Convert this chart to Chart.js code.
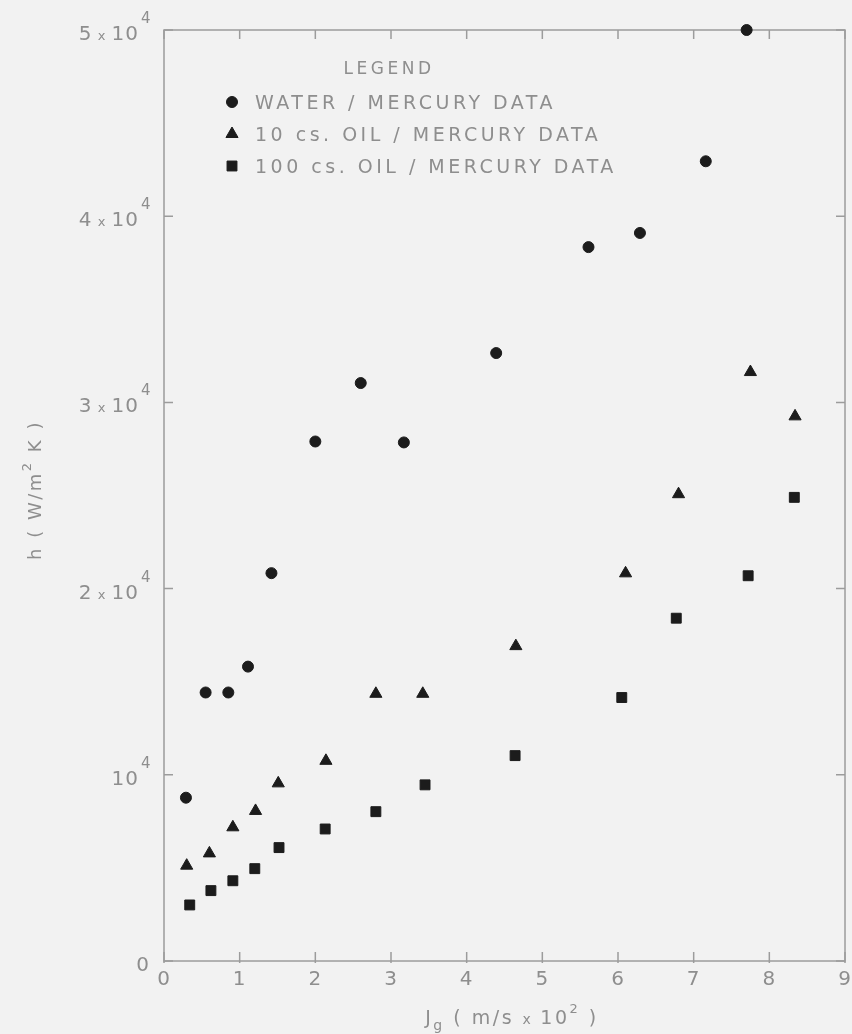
<!DOCTYPE html>
<html>
<head>
<meta charset="utf-8">
<script src="https://cdn.jsdelivr.net/npm/chart.js@4.4.1/dist/chart.umd.min.js"></script>
<style>
  html, body { margin: 0; padding: 0; background: #f2f2f2; }
  canvas { display: block; }
</style>
</head>
<body>
<canvas id="chart" width="852" height="1034"></canvas>
<script>
// Superficial gas velocity J_g (m/s x 10^2) and heat transfer coefficient h (W/m^2 K)
const jWater  = [0.29, 0.55, 0.85, 1.11, 1.42, 2.00, 2.60, 3.17, 4.39, 5.61, 6.29, 7.16, 7.70];
const hWater  = [8770, 14420, 14420, 15810, 20830, 27900, 31040, 27850, 32650, 38340, 39100, 42950, 50000];

const jOil10  = [0.30, 0.60, 0.91, 1.21, 1.51, 2.14, 2.80, 3.42, 4.65, 6.10, 6.80, 7.75, 8.34];
const hOil10  = [5120, 5780, 7180, 8060, 9540, 10750, 14350, 14350, 16910, 20820, 25070, 31630, 29250];

const jOil100 = [0.34, 0.62, 0.91, 1.20, 1.52, 2.13, 2.80, 3.45, 4.64, 6.05, 6.77, 7.72, 8.33];
const hOil100 = [3010, 3780, 4310, 4960, 6090, 7090, 8020, 9460, 11030, 14150, 18410, 20690, 24900];

const seriesNames = ['WATER / MERCURY DATA', '10 cs. OIL / MERCURY DATA', '100 cs. OIL / MERCURY DATA'];
const legendTitle = 'LEGEND';

// Axis ticks and their lettering
const jTicks = [0, 1, 2, 3, 4, 5, 6, 7, 8, 9];
const jTickText = ['0', '1', '2', '3', '4', '5', '6', '7', '8', '9'];
const hTicks = [0, 10000, 20000, 30000, 40000, 50000];
const hTickMantissa = ['0', '', '2', '3', '4', '5'];
const hTickExp = ['', '4', '4', '4', '4', '4'];

const FONT = '"DejaVu Sans", sans-serif';
const INK = '#8e8e8e';
const FRAME = '#9c9c9c';
const MARK = '#1c1c1c';

function toPoints(xs, ys) { return xs.map((x, i) => ({ x, y: ys[i] })); }

function fnt(size) { return size + 'px ' + FONT; }

function runWidth(ctx, parts) {
  let w = 0;
  for (const p of parts) { ctx.font = fnt(p.s); w += ctx.measureText(p.t).width; }
  return w;
}

// Draws a sequence of text pieces (with raised / lowered pieces) on one baseline
function drawRun(ctx, parts, x, baseline, align) {
  const w = runWidth(ctx, parts);
  let cx = align === 'right' ? x - w : align === 'center' ? x - w / 2 : x;
  for (const p of parts) {
    ctx.font = fnt(p.s);
    ctx.fillText(p.t, cx, baseline + (p.dy || 0));
    cx += ctx.measureText(p.t).width;
  }
}

const framePlugin = {
  id: 'frame',
  beforeDraw(chart) {
    const ctx = chart.ctx;
    ctx.save();
    ctx.fillStyle = '#f2f2f2';
    ctx.fillRect(0, 0, chart.width, chart.height);
    ctx.restore();
  },
  beforeDatasetsDraw(chart) {
    const { ctx, chartArea: a, scales: { x, y } } = chart;
    ctx.save();
    ctx.strokeStyle = FRAME;
    ctx.lineWidth = 1.5;
    ctx.strokeRect(a.left, a.top, a.right - a.left, a.bottom - a.top);
    const len = 9;
    ctx.beginPath();
    for (const v of jTicks) {
      const px = x.getPixelForValue(v);
      ctx.moveTo(px, a.bottom + 2); ctx.lineTo(px, a.bottom - len);
      ctx.moveTo(px, a.top); ctx.lineTo(px, a.top + len);
    }
    for (const v of hTicks) {
      const py = y.getPixelForValue(v);
      ctx.moveTo(a.left, py); ctx.lineTo(a.left + len, py);
      ctx.moveTo(a.right, py); ctx.lineTo(a.right - len, py);
    }
    ctx.stroke();
    ctx.restore();
  },
  afterDraw(chart) {
    const { ctx, scales: { x, y } } = chart;
    ctx.save();
    ctx.fillStyle = INK;
    ctx.textAlign = 'left';
    ctx.textBaseline = 'alphabetic';
    if ('letterSpacing' in ctx) ctx.letterSpacing = '1px';

    // h tick labels
    hTicks.forEach((v, i) => {
      const py = y.getPixelForValue(v);
      const base = py + 10;
      if (!hTickExp[i]) {
        drawRun(ctx, [{ t: hTickMantissa[i], s: 20 }], 150, base, 'right');
        return;
      }
      const parts = [];
      if (hTickMantissa[i]) {
        parts.push({ t: hTickMantissa[i], s: 20 });
        parts.push({ t: ' x ', s: 13 });
      }
      parts.push({ t: '10', s: 20 });
      drawRun(ctx, parts, 139, base, 'right');
      drawRun(ctx, [{ t: hTickExp[i], s: 15 }], 141, base - 17, 'left');
    });

    // J tick labels
    jTicks.forEach((v, i) => {
      const px = x.getPixelForValue(v);
      drawRun(ctx, [{ t: jTickText[i], s: 20 }], px, 985, 'center');
    });

    // axis titles
    if ('letterSpacing' in ctx) ctx.letterSpacing = '2.5px';
    drawRun(ctx, [
      { t: 'J', s: 19 }, { t: 'g', s: 14, dy: 6 },
      { t: ' ( m/s ', s: 19 }, { t: 'x ', s: 14 }, { t: '10', s: 19 },
      { t: '2', s: 13, dy: -11 }, { t: ' )', s: 19 }
    ], 512, 1024, 'center');

    ctx.save();
    ctx.translate(35, 490);
    ctx.rotate(-Math.PI / 2);
    drawRun(ctx, [
      { t: 'h ( W/m', s: 18 }, { t: '2', s: 13, dy: -10 }, { t: ' K )', s: 18 }
    ], 0, 6, 'center');
    ctx.restore();

    // legend block inside the plot
    if ('letterSpacing' in ctx) ctx.letterSpacing = '3.5px';
    drawRun(ctx, [{ t: legendTitle, s: 17 }], 389, 74, 'center');
    const rows = [102, 134, 166];
    chart.data.datasets.forEach((ds, i) => {
      ctx.fillStyle = MARK;
      ctx.strokeStyle = MARK;
      ctx.lineWidth = 1;
      Chart.helpers.drawPoint(ctx, {
        pointStyle: ds.pointStyle, radius: ds.pointRadius, rotation: 0, borderWidth: 1
      }, 232, rows[i]);
      ctx.fillStyle = INK;
      drawRun(ctx, [{ t: ds.label, s: 19 }], 255, rows[i] + 7, 'left');
    });
    ctx.restore();
  }
};

const markStyle = (style, radius) => ({
  pointStyle: style,
  pointRadius: radius,
  pointHoverRadius: radius,
  backgroundColor: MARK,
  borderColor: MARK,
  borderWidth: 1,
  showLine: false,
  clip: false
});

new Chart(document.getElementById('chart'), {
  type: 'scatter',
  data: {
    datasets: [
      Object.assign({ label: seriesNames[0], data: toPoints(jWater, hWater) }, markStyle('circle', 5.5)),
      Object.assign({ label: seriesNames[1], data: toPoints(jOil10, hOil10) }, markStyle('triangle', 7)),
      Object.assign({ label: seriesNames[2], data: toPoints(jOil100, hOil100) }, markStyle('rect', 7))
    ]
  },
  options: {
    responsive: false,
    animation: false,
    events: [],
    layout: { autoPadding: false, padding: { left: 164, right: 7, top: 30, bottom: 73 } },
    plugins: { legend: { display: false }, tooltip: { enabled: false } },
    scales: {
      x: {
        type: 'linear', min: 0, max: 9,
        ticks: { display: false }, grid: { display: false }, border: { display: false },
        afterFit: s => { s.height = 0; }
      },
      y: {
        type: 'linear', min: 0, max: 50000,
        ticks: { display: false }, grid: { display: false }, border: { display: false },
        afterFit: s => { s.width = 0; }
      }
    }
  },
  plugins: [framePlugin]
});
</script>
</body>
</html>
